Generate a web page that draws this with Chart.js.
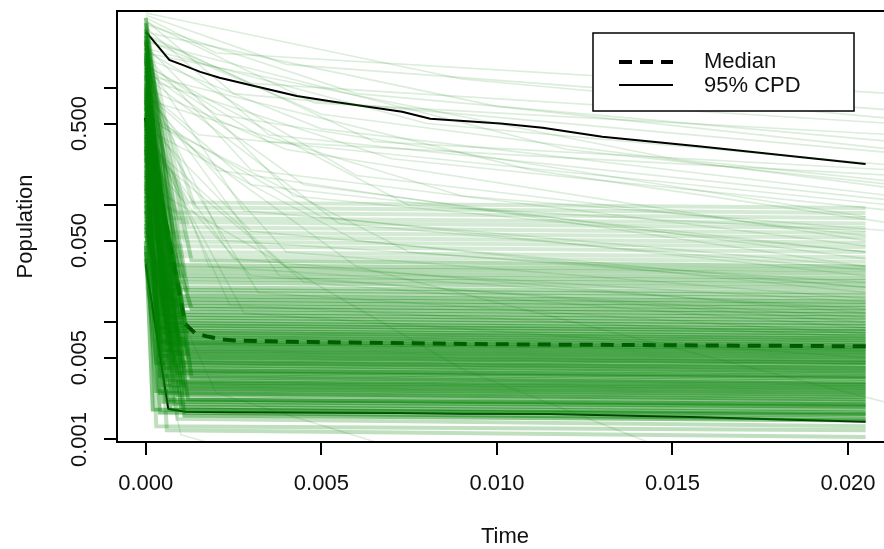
<!DOCTYPE html>
<html>
<head>
<meta charset="utf-8">
<script src="https://cdn.jsdelivr.net/npm/chart.js@4.4.0/dist/chart.umd.min.js"></script>
<style>
  html, body { margin: 0; padding: 0; background: #fff; overflow: hidden; width: 884px; height: 549px; }
  canvas { display: block; }
</style>
</head>
<body>
<canvas id="chart" width="920" height="549"></canvas>
<script>
// time at which the simulated trajectories stop
const endTime = 0.0205;

// trajectories that crash quickly to a plateau
const fastStart = [1.2, 0.08, 0.4, 2.5, 0.15, 0.9, 0.05, 0.6, 3.2, 0.25,
  0.7, 0.12, 1.8, 0.35, 0.045, 0.5, 2.0, 0.09, 0.3, 1.1,
  0.2, 4.0, 0.55, 0.065, 0.8, 1.5, 0.18, 0.42, 0.035, 2.8,
  0.28, 0.75, 0.1, 1.3, 0.48, 0.06, 3.6, 0.22, 0.95, 0.14,
  0.38, 1.7, 0.07, 0.62, 2.2, 0.32, 0.04, 1.0, 0.16, 0.52,
  2.6, 0.11, 0.68, 0.26, 1.4, 0.055, 0.85, 0.45, 3.0, 0.19,
  0.58, 0.13, 1.9, 0.3, 0.075, 1.05, 0.4, 2.4, 0.24, 0.66,
  0.09, 1.25, 0.5, 0.17, 3.4, 0.36, 0.8, 0.12, 1.6, 0.44];
const fastKnee = [0.0006, 0.0003, 0.0009, 0.0011, 0.0004, 0.0007, 0.0002, 0.0010, 0.0008, 0.0005,
  0.0012, 0.0006, 0.0009, 0.0004, 0.0003, 0.0011, 0.0007, 0.0005, 0.0010, 0.0008,
  0.0006, 0.0013, 0.0004, 0.0009, 0.0007, 0.0011, 0.0005, 0.0008, 0.0003, 0.0010,
  0.0006, 0.0012, 0.0004, 0.0009, 0.0007, 0.0005, 0.0011, 0.0008, 0.0006, 0.0010,
  0.0004, 0.0009, 0.0007, 0.0012, 0.0005, 0.0008, 0.0003, 0.0010, 0.0006, 0.0011,
  0.0007, 0.0004, 0.0009, 0.0013, 0.0005, 0.0008, 0.0006, 0.0010, 0.0012, 0.0007,
  0.0009, 0.0004, 0.0011, 0.0006, 0.0008, 0.0010, 0.0005, 0.0013, 0.0007, 0.0009,
  0.0006, 0.0011, 0.0008, 0.0004, 0.0012, 0.0010, 0.0007, 0.0009, 0.0014, 0.0012];
const fastLevel = [0.0012, 0.0013, 0.0015, 0.0016, 0.0017, 0.0018, 0.0018, 0.0019, 0.0020, 0.0021,
  0.0022, 0.0022, 0.0024, 0.0025, 0.0026, 0.0027, 0.0028, 0.0029, 0.0030, 0.0031,
  0.0032, 0.0034, 0.0035, 0.0037, 0.0038, 0.0039, 0.0041, 0.0043, 0.0045, 0.0046,
  0.0048, 0.0050, 0.0052, 0.0054, 0.0056, 0.0058, 0.0060, 0.0063, 0.0065, 0.0067,
  0.0069, 0.0072, 0.0075, 0.0078, 0.0082, 0.0085, 0.0090, 0.0094, 0.0099, 0.0104,
  0.011, 0.0116, 0.0123, 0.0131, 0.0139, 0.0148, 0.0158, 0.0168, 0.018, 0.019,
  0.020, 0.022, 0.0235, 0.025, 0.027, 0.029, 0.031, 0.034, 0.037, 0.040,
  0.045, 0.049, 0.054, 0.059, 0.065, 0.072, 0.078, 0.087, 0.096, 0.106];
const fastEnd = [0.00105, 0.0012, 0.0013, 0.00145, 0.0015, 0.0016, 0.00165, 0.0017, 0.0018, 0.0019,
  0.00195, 0.0020, 0.0021, 0.0022, 0.0023, 0.0024, 0.0025, 0.0026, 0.0027, 0.0028,
  0.0029, 0.0030, 0.0031, 0.0033, 0.0034, 0.0035, 0.0037, 0.0038, 0.0040, 0.0041,
  0.0043, 0.0045, 0.0046, 0.0048, 0.0050, 0.0052, 0.0054, 0.0056, 0.0058, 0.0060,
  0.0062, 0.0064, 0.0067, 0.0070, 0.0073, 0.0076, 0.0080, 0.0084, 0.0088, 0.0093,
  0.0098, 0.0104, 0.0110, 0.0117, 0.0124, 0.0132, 0.0141, 0.0150, 0.016, 0.017,
  0.018, 0.0195, 0.021, 0.0225, 0.024, 0.026, 0.028, 0.030, 0.033, 0.036,
  0.040, 0.044, 0.048, 0.053, 0.058, 0.064, 0.070, 0.078, 0.086, 0.095];

// trajectories that decline slowly
const slowStart = [4.2, 3.5, 2.8, 2.2, 1.8, 1.5, 1.2, 1.0, 0.9, 0.8,
  0.7, 0.6, 0.5, 0.45, 0.4, 0.35, 2.5, 3.0, 1.6, 0.95,
  0.3, 0.25, 4.0, 1.3, 0.55, 2.0, 0.15, 0.05, 0.6, 0.02,
  3.8, 2.6, 1.9, 1.4, 1.1, 0.85, 0.75, 3.3, 2.1, 1.7,
  0.65, 0.5, 1.25, 2.9, 4.4, 0.42, 0.95, 2.3, 1.55, 3.7];
const slowMidTime = [0.004, 0.006, 0.003, 0.008, 0.005, 0.002, 0.007, 0.004, 0.003, 0.009,
  0.002, 0.005, 0.003, 0.006, 0.0025, 0.004, 0.012, 0.010, 0.0035, 0.0015,
  0.0045, 0.003, 0.002, 0.011, 0.0075, 0.015, 0.009, 0.002, 0.006, 0.001,
  0.0025, 0.005, 0.003, 0.0045, 0.0022, 0.004, 0.0018, 0.0035, 0.006, 0.0028,
  0.0032, 0.0024, 0.0055, 0.0065, 0.009, 0.0028, 0.0038, 0.0042, 0.0075, 0.0048];
const slowMid = [1.6, 0.9, 1.1, 0.5, 0.45, 0.6, 0.25, 0.3, 0.15, 0.12,
  0.2, 0.08, 0.06, 0.05, 0.035, 0.03, 0.3, 0.7, 0.35, 0.4,
  0.022, 0.025, 2.0, 0.2, 0.04, 0.25, 0.004, 0.0025, 0.03, 0.0011,
  0.9, 0.6, 0.2, 0.15, 0.05, 0.04, 0.03, 0.4, 0.18, 0.09,
  0.018, 0.014, 0.07, 0.35, 1.2, 0.012, 0.025, 0.12, 0.1, 0.75];
const slowEndTime = [0.0213, 0.0213, 0.0213, 0.0213, 0.0213, 0.0205, 0.0213, 0.0205, 0.0205, 0.0213,
  0.0205, 0.0205, 0.0205, 0.0205, 0.0205, 0.0205, 0.0213, 0.0213, 0.0213, 0.0213,
  0.0205, 0.0205, 0.0213, 0.0213, 0.0205, 0.0213, 0.016, 0.008, 0.0213, 0.004,
  0.0213, 0.0213, 0.0205, 0.0205, 0.0205, 0.0205, 0.0205, 0.0213, 0.0205, 0.0205,
  0.0205, 0.0205, 0.0205, 0.0213, 0.0213, 0.0205, 0.0205, 0.0205, 0.0205, 0.0213];
const slowEnd = [0.65, 0.35, 0.5, 0.22, 0.12, 0.08, 0.09, 0.05, 0.04, 0.06,
  0.03, 0.025, 0.02, 0.018, 0.012, 0.015, 0.15, 0.3, 0.18, 0.1,
  0.009, 0.011, 0.9, 0.07, 0.02, 0.16, 0.0006, 0.0007, 0.002, 0.0006,
  0.28, 0.14, 0.045, 0.035, 0.022, 0.016, 0.013, 0.11, 0.055, 0.03,
  0.008, 0.0075, 0.028, 0.2, 0.55, 0.005, 0.01, 0.04, 0.06, 0.4];

// summary curves
const medianTime = [0, 0.00112, 0.0014, 0.00174, 0.00212, 0.0025, 0.00345, 0.0044, 0.0101, 0.0205];
const medianValue = [0.56, 0.0097, 0.0081, 0.0076, 0.0072, 0.0070, 0.0069, 0.0068, 0.0065, 0.00625];
const upperTime = [0, 0.00067, 0.0011, 0.00155, 0.0021, 0.0033, 0.0043, 0.0053, 0.0073, 0.0081, 0.0101, 0.0113, 0.0130, 0.0158, 0.0205];
const upperValue = [3.05, 1.75, 1.56, 1.38, 1.23, 1.01, 0.86, 0.77, 0.63, 0.55, 0.50, 0.46, 0.386, 0.318, 0.226];
const lowerTime = [0, 0.00064, 0.00112, 0.0025, 0.0072, 0.0090, 0.0115, 0.0158, 0.0205];
const lowerValue = [0.0314, 0.00183, 0.00173, 0.00171, 0.00168, 0.00166, 0.00165, 0.00155, 0.00142];

const xTicks = [0, 0.005, 0.01, 0.015, 0.02];
const yTicks = [0.001, 0.005, 0.01, 0.05, 0.1, 0.5, 1];
const yLabels = [0.001, 0.005, 0.05, 0.5];

const FONT = '"Liberation Sans", Arial, Helvetica, sans-serif';

function pairs(ts, vs) {
  return ts.map((t, i) => ({ x: t, y: vs[i] }));
}

// the plateau band fades out towards its top and bottom edges, as in the original
function plateauColor(level) {
  if (level > 0.03) return "rgba(0, 128, 0, 0.17)";
  if (level > 0.015) return "rgba(0, 128, 0, 0.3)";
  if (level > 0.009) return "rgba(0, 128, 0, 0.42)";
  if (level < 0.0014) return "rgba(0, 128, 0, 0.25)";
  return "rgba(0, 128, 0, 0.46)";
}

var datasets = [];
slowStart.forEach(function (s, i) {
  datasets.push({
    data: [{ x: 0, y: s }, { x: slowMidTime[i], y: slowMid[i] }, { x: slowEndTime[i], y: slowEnd[i] }],
    borderColor: "rgba(0, 128, 0, 0.14)",
    borderWidth: 1.6,
  });
});
fastStart.forEach(function (s, i) {
  datasets.push({
    data: [{ x: 0, y: s }, { x: fastKnee[i], y: fastLevel[i] }, { x: endTime, y: fastEnd[i] }],
    borderColor: plateauColor(fastEnd[i]),
    borderWidth: 4,
  });
});
datasets.push({
  data: pairs(medianTime, medianValue),
  borderColor: "#000",
  borderWidth: 4,
  borderDash: [13, 8],
});
datasets.push({ data: pairs(upperTime, upperValue), borderColor: "#000", borderWidth: 2 });
datasets.push({ data: pairs(lowerTime, lowerValue), borderColor: "#000", borderWidth: 2 });

// box, rotated y labels, axis titles and legend, drawn the way R lays them out
const framePlugin = {
  id: "frame",
  afterDraw(chart) {
    const { ctx, chartArea: a, scales } = chart;
    ctx.save();
    ctx.strokeStyle = "#000";
    ctx.lineWidth = 2;
    ctx.strokeRect(a.left, a.top, a.right - a.left, a.bottom - a.top);

    ctx.fillStyle = "#111";
    ctx.font = "22px " + FONT;
    ctx.textAlign = "center";
    ctx.textBaseline = "middle";
    yLabels.forEach(function (v) {
      const y = scales.y.getPixelForValue(v);
      ctx.save();
      ctx.translate(80, y);
      ctx.rotate(-Math.PI / 2);
      ctx.fillText(v.toFixed(3), 0, 0);
      ctx.restore();
    });

    ctx.fillText("Time", (a.left + a.right) / 2, 537);
    ctx.save();
    ctx.translate(26, (a.top + a.bottom) / 2);
    ctx.rotate(-Math.PI / 2);
    ctx.fillText("Population", 0, 0);
    ctx.restore();

    // legend
    ctx.fillStyle = "#fff";
    ctx.fillRect(593, 33, 261, 78);
    ctx.lineWidth = 1.5;
    ctx.strokeRect(593, 33, 261, 78);
    ctx.beginPath();
    ctx.lineWidth = 4;
    ctx.setLineDash([13, 8]);
    ctx.moveTo(619, 62);
    ctx.lineTo(673, 62);
    ctx.stroke();
    ctx.beginPath();
    ctx.setLineDash([]);
    ctx.lineWidth = 2;
    ctx.moveTo(619, 85);
    ctx.lineTo(673, 85);
    ctx.stroke();
    ctx.fillStyle = "#111";
    ctx.textAlign = "left";
    ctx.fillText("Median", 704, 62);
    ctx.fillText("95% CPD", 704, 86);
    ctx.restore();
  },
};

var ctx = document.getElementById("chart").getContext("2d");
var myChart = new Chart(ctx, {
  type: "line",
  data: { datasets: datasets },
  plugins: [framePlugin],
  options: {
    responsive: false,
    animation: false,
    events: [],
    layout: { padding: { top: 11, right: 27, left: 0, bottom: 0 } },
    elements: {
      point: { radius: 0 },
      line: { tension: 0, borderCapStyle: "butt" },
    },
    plugins: {
      legend: { display: false },
      tooltip: { enabled: false },
    },
    scales: {
      x: {
        type: "linear",
        min: -0.00082,
        max: 0.02128,
        afterBuildTicks: function (scale) {
          scale.ticks = xTicks.map(function (v) { return { value: v }; });
        },
        afterFit: function (scale) { scale.height = 107; },
        border: { display: false },
        grid: { drawOnChartArea: false, drawTicks: true, tickLength: 13, tickColor: "#000", lineWidth: 2 },
        ticks: {
          color: "#111",
          padding: 16,
          maxRotation: 0,
          font: { family: FONT, size: 22 },
          callback: function (v) { return Number(v).toFixed(3); },
        },
      },
      y: {
        type: "logarithmic",
        min: 0.000952,
        max: 4.57,
        afterBuildTicks: function (scale) {
          scale.ticks = yTicks.map(function (v) { return { value: v }; });
        },
        afterFit: function (scale) { scale.width = 117; },
        border: { display: false },
        grid: { drawOnChartArea: false, drawTicks: true, tickLength: 13, tickColor: "#000", lineWidth: 2 },
        ticks: { display: false },
      },
    },
  },
});
</script>
</body>
</html>
